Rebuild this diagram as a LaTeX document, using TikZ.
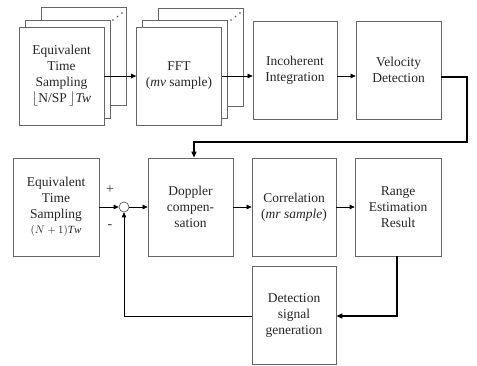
\documentclass[tikz,border=0pt]{standalone}
\usepackage{fontspec}
\setmainfont{Liberation Serif}
\usetikzlibrary{arrows.meta,calc}
\begin{document}
\begin{tikzpicture}[x=1pt,y=1pt,
  blk/.style={draw=black!60,line width=0.7pt,fill=white,minimum width=85pt,minimum height=98pt,
    align=center,inner sep=0pt,font=\fontsize{13.5}{16}\selectfont,text=black!85},
  arr/.style={line width=0.6pt,-{Triangle[length=5pt,width=4.5pt]}},
  thk/.style={line width=1.2pt,-{Triangle[length=6pt,width=5pt]}},
  dots/.style={font=\fontsize{9}{9}\selectfont}]
\useasboundingbox (0,0) rectangle (477,-366);
% top row stack 1
\node[blk] (etsb) at (84,-56.5) {};
\node[blk] (etsm) at (67.5,-69) {};
\node[blk] (ets) at (61.5,-76) {Equivalent\\Time\\Sampling\\\(\lfloor\)N/SP\,\(\rfloor\)\textit{Tw}};
\fill[black!70] (113,-20) circle (0.8) (117.5,-16.5) circle (0.8) (122,-13) circle (0.8);
% stack 2
\node[blk] (fftb) at (200.5,-57) {};
\node[blk] (fftm) at (184.5,-69) {};
\node[blk] (fft) at (179,-76) {FFT\\(\textit{mv} sample)};
\fill[black!70] (231,-20) circle (0.8) (235.5,-16.5) circle (0.8) (240,-13) circle (0.8);
\node[blk,minimum width=84pt] (inc) at (295,-70) {Incoherent\\Integration};
\node[blk] (vel) at (398.5,-70) {Velocity\\Detection};
% bottom row
\node[blk,minimum width=86pt] (ets2) at (56,-207) {Equivalent\\Time\\Sampling\\[-1pt]{\fontsize{11}{13}\selectfont\((N+1)\mathit{Tw}\)}};
\node[draw=black!70,line width=0.6pt,circle,minimum size=10pt,inner sep=0pt,fill=white] (sum) at (124,-207) {};
\node[blk] (dop) at (190.5,-207) {Doppler\\compen-\\sation};
\node[blk,minimum width=84pt] (cor) at (294,-207) {Correlation\\(\textit{mr sample})};
\node[blk,minimum width=86pt] (rng) at (398,-207) {Range\\Estimation\\Result};
\node[blk,minimum width=84pt] (det) at (294,-315) {Detection\\signal\\generation};
\node[font=\fontsize{14}{14}\selectfont,text=black!80] (plus) at (110,-190) {+};
\node[font=\fontsize{14}{14}\selectfont,text=black!80] (minus) at (110,-227) {-};
% arrows top
\draw[arr] (ets.east) -- (fft.west);
\draw[arr] (fft.east) -- (fft.east -| inc.west);
\draw[arr] (fft.east -| inc.east) -- (fft.east -| vel.west);
\coordinate (c1) at (467,-77);
\coordinate (c2) at (467,-142);
\coordinate (c3) at (194,-142);
\draw[thk] (c1 -| vel.east) -- (c1) -- (c2) -- (c3) -- (c3 |- dop.north);
% arrows bottom
\draw[arr] (ets2.east) -- (sum.west);
\draw[arr] (sum.east) -- (dop.west);
\draw[arr] (dop.east) -- (cor.west);
\draw[arr] (cor.east) -- (rng.west);
\coordinate (d1) at (397,-316);
\draw[thk] (d1 |- rng.south) -- (d1) -- (d1 -| det.east);
\draw[arr] (det.west |- d1) -- (sum |- d1) -- (sum.south);
\end{tikzpicture}
\end{document}
